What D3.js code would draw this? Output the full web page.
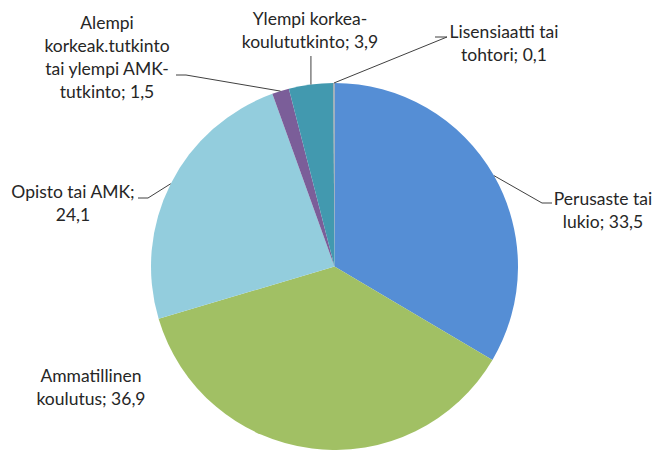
<!DOCTYPE html>
<meta charset="utf-8">
<style>
body { margin: 0; background: #fff; }
.lbl { font-family: Lato, sans-serif; font-size: 17.5px; fill: #262626; }
.leader { fill: none; stroke: #404040; stroke-width: 1px; }
</style>
<body>
<svg id="chart" width="659" height="450"></svg>
<script src="https://cdnjs.cloudflare.com/ajax/libs/d3/7.8.5/d3.min.js"></script>
<script>
// koulutusaste -> osuus (%)
var categories = ["Perusaste tai lukio", "Ammatillinen koulutus", "Opisto tai AMK",
  "Alempi korkeak.tutkinto tai ylempi AMK-tutkinto", "Ylempi korkea-koulututkinto", "Lisensiaatti tai tohtori"];
var values = [33.5, 36.9, 24.1, 1.5, 3.9, 0.1];
var colors = ["#558ed5", "#a1c064", "#93cddd", "#7b5e99", "#4299af", "#9a9a9a"];
var labelLines = [
  ["Perusaste tai", "lukio; 33,5"],
  ["Ammatillinen", "koulutus; 36,9"],
  ["Opisto tai AMK;", "24,1"],
  ["Alempi", "korkeak.tutkinto", "tai ylempi AMK-", "tutkinto; 1,5"],
  ["Ylempi korkea-", "koulututkinto; 3,9"],
  ["Lisensiaatti tai", "tohtori; 0,1"]
];

var svg = d3.select("#chart");
var cx = 334.5, cy = 266.5, r = 183.5;

var pie = d3.pie().sort(null).value(d => d);
var arcs = pie(values);
var arc = d3.arc().innerRadius(0).outerRadius(r);

var g = svg.append("g").attr("transform", "translate(" + cx + "," + cy + ")");
g.selectAll("path.slice")
  .data(arcs)
  .enter().append("path")
  .attr("class", "slice")
  .attr("d", arc)
  .attr("fill", (d, i) => colors[i]);

// label placement: text centre x, first baseline y, leader end point (label side)
var labelPos = [
  { x: 603, y: 205, lx: 552, ly: 203, kx: 542 },
  { x: 91,  y: 382, lx: null },
  { x: 73,  y: 198, lx: 138, ly: 198, kx: 148 },
  { x: 107, y: 29,  lx: 176, ly: 75,  kx: 186 },
  { x: 310, y: 25,  lx: null, vert: true },
  { x: 504, y: 38,  lx: 435, ly: 37,  kx: 447 }
];

var lineH = 23;
labelLines.forEach(function(lines, i) {
  var p = labelPos[i];
  var t = svg.append("text").attr("class", "lbl").attr("text-anchor", "middle");
  lines.forEach(function(s, j) {
    t.append("tspan").attr("x", p.x).attr("y", p.y + j * lineH).text(s);
  });

  // arc point on the slice edge
  var a = (arcs[i].startAngle + arcs[i].endAngle) / 2;
  var ax = cx + Math.sin(a) * r, ay = cy - Math.cos(a) * r;
  if (p.vert) {
    var ty = p.y + (lines.length - 1) * lineH + 8;
    svg.append("path").attr("class", "leader")
      .attr("d", "M" + ax + "," + ty + "L" + ax + "," + ay);
  } else if (p.lx != null) {
    svg.append("path").attr("class", "leader")
      .attr("d", "M" + p.lx + "," + p.ly + "L" + p.kx + "," + p.ly + "L" + ax + "," + ay);
  }
});
</script>
</body>
